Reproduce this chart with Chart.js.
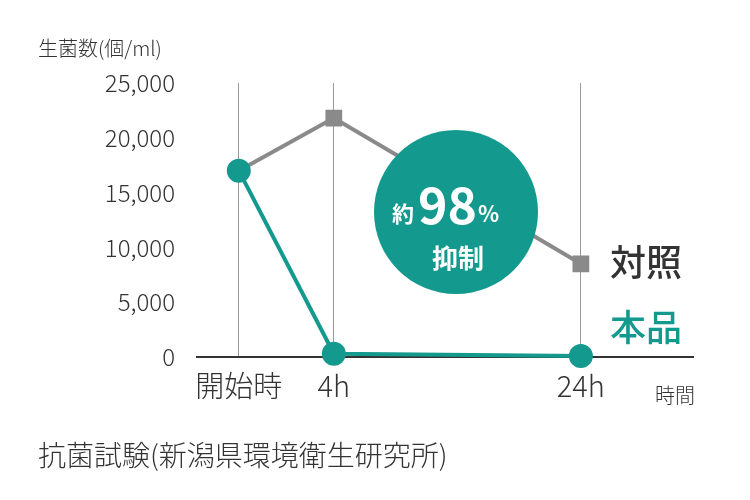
<!DOCTYPE html>
<html><head><meta charset="utf-8">
<script src="https://cdn.jsdelivr.net/npm/chart.js@4"></script>
<style>body{margin:0;background:#fff}#wrap{width:750px;height:500px;position:relative}</style>
</head><body>
<div id="wrap"><canvas id="c" width="750" height="500"></canvas></div>
<script>
// time points are not evenly spaced in the picture, so give them positions
const timeLabels = ['開始時', '4h', '24h'];
const timePos = [0, 1, 3.6];
const controlValues = [17000, 21800, 8500];
const productValues = [17000, 300, 100];
const yTicks = [0, 5000, 10000, 15000, 20000, 25000];

const FONT = '"Noto Sans CJK JP", "Noto Sans", sans-serif';
const GREY = '#8a8a8a';
const TEAL = '#14998e';

const extras = {
  id: 'extras',
  afterDatasetsDraw(chart) {
    const ctx = chart.ctx;
    ctx.save();
    ctx.fillStyle = '#333';
    ctx.font = '300 20px ' + FONT;
    ctx.textBaseline = 'middle';
    ctx.textAlign = 'left';
    ctx.fillText('生菌数(個/ml)', 38, 48);
    ctx.font = '300 28px ' + FONT;
    ctx.fillText('抗菌試験(新潟県環境衛生研究所)', 38, 455);
    ctx.font = '300 20px ' + FONT;
    ctx.fillText('時間', 655, 395);
    ctx.font = '500 36px ' + FONT;
    ctx.fillText('対照', 610, 262);
    ctx.fillStyle = TEAL;
    ctx.fillText('本品', 610, 327);
    // badge
    ctx.beginPath();
    ctx.arc(456, 212, 82, 0, Math.PI * 2);
    ctx.fill();
    ctx.fillStyle = '#fff';
    ctx.font = 'bold 22px ' + FONT;
    ctx.fillText('約', 392, 214);
    ctx.font = 'bold 50px ' + FONT;
    ctx.fillText('98', 418, 205);
    ctx.font = 'bold 22px ' + FONT;
    ctx.fillText('%', 478, 214);
    ctx.textAlign = 'center';
    ctx.font = 'bold 26px ' + FONT;
    ctx.fillText('抑制', 458, 258);
    ctx.restore();
  }
};

new Chart(document.getElementById('c'), {
  type: 'line',
  data: {
    datasets: [{
      data: timePos.map((x, i) => ({ x, y: controlValues[i] })),
      borderColor: GREY, backgroundColor: GREY, borderWidth: 4,
      pointStyle: 'rect', pointRadius: 9, order: 2, clip: false
    }, {
      data: timePos.map((x, i) => ({ x, y: productValues[i] })),
      borderColor: TEAL, backgroundColor: TEAL, borderWidth: 4,
      pointStyle: 'circle', pointRadius: 10, order: 1, clip: false
    }]
  },
  options: {
    responsive: false, animation: false,
    layout: { padding: { left: 0, top: 83, right: 57, bottom: 93 } },
    plugins: { legend: { display: false }, tooltip: { enabled: false } },
    scales: {
      x: {
        type: 'linear', min: -0.44, max: 4.78,
        afterFit: s => { s.height = 50; },
        afterBuildTicks: s => { s.ticks = timePos.map(v => ({ value: v })); },
        ticks: {
          autoSkip: false, maxRotation: 0, color: '#333', padding: 12,
          font: { size: 29, family: FONT, weight: 300 },
          callback: v => timeLabels[timePos.indexOf(v)]
        },
        grid: { color: '#999', lineWidth: 1, drawTicks: false },
        border: { color: '#333', width: 2 }
      },
      y: {
        min: 0, max: 25000,
        afterFit: s => { s.width = 197; },
        afterBuildTicks: s => { s.ticks = yTicks.map(v => ({ value: v })); },
        ticks: {
          color: '#333', padding: 14,
          font: { size: 24, family: FONT, weight: 300 },
          callback: v => v.toLocaleString('en-US')
        },
        grid: { display: false },
        border: { display: false }
      }
    }
  },
  plugins: [extras]
});
</script>
</body></html>
